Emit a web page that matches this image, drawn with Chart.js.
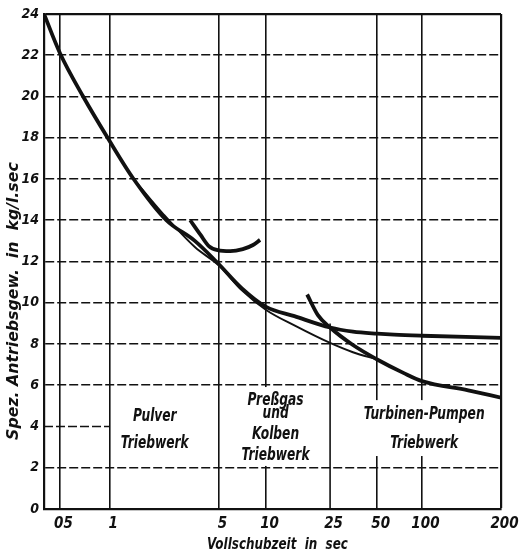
<!DOCTYPE html>
<html>
<head>
<meta charset="utf-8">
<script src="https://cdn.jsdelivr.net/npm/chart.js@4.4.1/dist/chart.umd.min.js"></script>
<style>
  html, body { margin: 0; padding: 0; background: #ffffff; }
  #wrap { width: 519px; height: 555px; position: relative; }
</style>
</head>
<body>
<div id="wrap"><canvas id="c" width="519" height="555"></canvas></div>
<script>
// ---------------- data ----------------
const xTickValues = [0.5, 1, 5, 10, 25, 50, 100, 200];
const xTickLabels = ['05', '1', '5', '10', '25', '50', '100', '200'];
const yTickValues = [0, 2, 4, 6, 8, 10, 12, 14, 16, 18, 20, 22, 24];

// thick curve from the top-left, flattening out (Preßgas / Kolben)
const pressgasX = [0.4, 0.5, 0.69, 0.97, 1.42, 2.3, 3.5, 4.8, 7, 10, 15, 25, 35, 50, 65, 100, 200];
const pressgasY = [24, 22.1, 20, 18, 16, 14, 13.0, 12.0, 10.7, 9.8, 9.35, 8.8, 8.6, 8.5, 8.45, 8.4, 8.3];

// thin envelope curve
const envelopeX = [1.42, 2.2, 3.5, 5, 7, 10, 15, 25, 35, 50];
const envelopeY = [16, 14.3, 12.7, 11.8, 10.6, 9.65, 8.9, 8.05, 7.6, 7.25];

// Pulver-Triebwerk (U-shaped)
const pulverX = [3.27, 3.8, 4.3, 4.9, 5.9, 7.1, 8.25, 9.15];
const pulverY = [14.0, 13.3, 12.75, 12.55, 12.5, 12.6, 12.8, 13.05];

// Turbinen-Pumpen-Triebwerk
const turbinenX = [18, 21, 25, 35, 50, 75, 100, 150, 200];
const turbinenY = [10.4, 9.4, 8.8, 7.95, 7.25, 6.6, 6.2, 5.75, 5.4];

// region labels (text)
const regionLabelLines = [
  ['Pulver', 'Triebwerk'],
  ['Preßgas', 'und', 'Kolben', 'Triebwerk'],
  ['Turbinen-Pumpen', 'Triebwerk']
];
const xTitle = 'Vollschubzeit  in  sec';
const yTitle = 'Spez. Antriebsgew.  in  kg/l.sec';

// ---------------- layout / style ----------------
const FONT_FAMILY = '"Liberation Sans Narrow", "DejaVu Sans Condensed", "Liberation Sans", sans-serif';
const INK = '#111111';

// the time axis of the original is a hand-drawn, piecewise logarithmic scale
const AXIS_STOPS = {
  values:    [0.4, 0.5,   1,     5,     10,    25,    50,    100,   200],
  fractions: [0,   0.035, 0.144, 0.383, 0.486, 0.626, 0.729, 0.827, 1]
};

// label anchors in data units (x seconds, y per line)
const regionLabelLayout = [
  { x: 1.94,  y: [4.46, 3.15] },
  { x: 11.45, y: [5.28, 4.65, 3.59, 2.57] },
  { x: 102,   y: [4.6, 3.15] }
];

class SegmentedLogScale extends Chart.LinearScale {
  static id = 'segmentedLog';
  static defaults = {};
  buildTicks() {
    return xTickValues.map(v => ({ value: v }));
  }
  _frac(v) {
    const vs = AXIS_STOPS.values, fs = AXIS_STOPS.fractions;
    if (v <= vs[0]) return fs[0] + (Math.log(v) - Math.log(vs[0])) / (Math.log(vs[1]) - Math.log(vs[0])) * (fs[1] - fs[0]);
    for (let i = 1; i < vs.length; i++) {
      if (v <= vs[i] || i === vs.length - 1) {
        const t = (Math.log(v) - Math.log(vs[i - 1])) / (Math.log(vs[i]) - Math.log(vs[i - 1]));
        return fs[i - 1] + t * (fs[i] - fs[i - 1]);
      }
    }
    return 1;
  }
  getPixelForValue(value) {
    if (value === null || value === undefined || isNaN(value)) return NaN;
    return this.getPixelForDecimal(this._frac(value));
  }
  getValueForPixel(pixel) {
    const d = this.getDecimalForPixel(pixel);
    const vs = AXIS_STOPS.values, fs = AXIS_STOPS.fractions;
    for (let i = 1; i < vs.length; i++) {
      if (d <= fs[i] || i === vs.length - 1) {
        const t = (d - fs[i - 1]) / (fs[i] - fs[i - 1]);
        return Math.exp(Math.log(vs[i - 1]) + t * (Math.log(vs[i]) - Math.log(vs[i - 1])));
      }
    }
    return vs[vs.length - 1];
  }
}
Chart.register(SegmentedLogScale);

const toPoints = (xs, ys) => xs.map((x, i) => ({ x: x, y: ys[i] }));

function drawScaledText(ctx, text, x, y, sx) {
  ctx.save();
  ctx.translate(x, y);
  ctx.scale(sx, 1);
  ctx.fillText(text, 0, 0);
  ctx.restore();
}

const decorations = {
  id: 'decorations',
  beforeDatasetsDraw(chart) {
    const { ctx, chartArea } = chart;
    const xs = chart.scales.x, ys = chart.scales.y;
    ctx.save();
    ctx.strokeStyle = INK;
    // partial grid line at 4 (only up to the 1-sec line)
    ctx.lineWidth = 1.6;
    ctx.setLineDash([9, 3]);
    ctx.beginPath();
    ctx.moveTo(xs.left, ys.getPixelForValue(4));
    ctx.lineTo(xs.getPixelForValue(1), ys.getPixelForValue(4));
    ctx.stroke();
    // partial vertical line at 25 sec
    ctx.setLineDash([]);
    ctx.beginPath();
    ctx.moveTo(xs.getPixelForValue(25), ys.getPixelForValue(0));
    ctx.lineTo(xs.getPixelForValue(25), ys.getPixelForValue(9));
    ctx.stroke();

    // region labels with blank background (grid is interrupted behind them)
    const squeeze = 0.8;
    ctx.font = 'italic bold 17px ' + FONT_FAMILY;
    ctx.textAlign = 'center';
    ctx.textBaseline = 'middle';
    const yTop = ys.getPixelForValue(6) + 1.8;
    const yBot = ys.getPixelForValue(2) - 1.8;
    regionLabelLines.forEach((lines, gi) => {
      const lay = regionLabelLayout[gi];
      const cx = xs.getPixelForValue(lay.x);
      const w = Math.max(...lines.map(t => ctx.measureText(t).width)) * squeeze + 10;
      const top = Math.max(ys.getPixelForValue(lay.y[0]) - 14, yTop);
      const bot = Math.min(ys.getPixelForValue(lay.y[lay.y.length - 1]) + 12, yBot);
      const left = Math.max(cx - w / 2, chartArea.left + 2);
      const right = Math.min(cx + w / 2, chartArea.right - 2);
      ctx.fillStyle = '#ffffff';
      ctx.fillRect(left, top, right - left, bot - top);
      ctx.fillStyle = INK;
      lines.forEach((t, li) => drawScaledText(ctx, t, cx, ys.getPixelForValue(lay.y[li]), squeeze));
    });
    ctx.restore();
  },
  afterDraw(chart) {
    const { ctx, chartArea } = chart;
    ctx.save();
    ctx.fillStyle = INK;
    ctx.textAlign = 'center';
    ctx.textBaseline = 'middle';
    // y-axis title (rotated)
    ctx.save();
    ctx.translate(14, chartArea.top + (chartArea.bottom - chartArea.top) * 0.58);
    ctx.rotate(-Math.PI / 2);
    ctx.font = 'italic bold 15.5px ' + FONT_FAMILY;
    drawScaledText(ctx, yTitle, 0, 0, 1.13);
    ctx.restore();
    // x-axis title
    ctx.font = 'italic bold 16px ' + FONT_FAMILY;
    drawScaledText(ctx, xTitle, (chartArea.left + chartArea.right) / 2 + 5, chartArea.bottom + 36, 0.83);
    ctx.restore();
  }
};

const thick = { borderColor: INK, borderWidth: 3.8, pointRadius: 0, cubicInterpolationMode: 'monotone', fill: false };

new Chart(document.getElementById('c'), {
  type: 'line',
  data: {
    datasets: [
      Object.assign({ label: 'Preßgas- und Kolben-Triebwerk', data: toPoints(pressgasX, pressgasY) }, thick),
      { label: 'Hüllkurve', data: toPoints(envelopeX, envelopeY), borderColor: INK, borderWidth: 1.9,
        pointRadius: 0, cubicInterpolationMode: 'monotone', fill: false },
      Object.assign({ label: 'Pulver-Triebwerk', data: toPoints(pulverX, pulverY) }, thick),
      Object.assign({ label: 'Turbinen-Pumpen-Triebwerk', data: toPoints(turbinenX, turbinenY) }, thick)
    ]
  },
  options: {
    responsive: false,
    animation: false,
    layout: { padding: { left: 0, right: 18, top: 14, bottom: 0 } },
    plugins: { legend: { display: false }, tooltip: { enabled: false } },
    scales: {
      x: {
        type: 'segmentedLog',
        min: AXIS_STOPS.values[0],
        max: AXIS_STOPS.values[AXIS_STOPS.values.length - 1],
        afterFit(scale) { scale.height = 46; scale.paddingLeft = 0; scale.paddingRight = 0; },
        grid: {
          drawTicks: false,
          color: (c) => (c.tick && c.tick.value === 25) ? 'rgba(0,0,0,0)' : INK,
          lineWidth: (c) => (c.tick && c.tick.value === 200) ? 2.2 : 1.6
        },
        border: { display: true, color: INK, width: 2.2 },
        ticks: {
          autoSkip: false, maxRotation: 0, minRotation: 0,
          padding: 6, labelOffset: 3.5, color: INK,
          font: { family: FONT_FAMILY, size: 15, style: 'italic', weight: 'bold' },
          callback: (v, i) => xTickLabels[i]
        },
        title: { display: false }
      },
      y: {
        type: 'linear',
        min: 0, max: 24,
        afterFit(scale) { scale.width = 44; scale.paddingTop = 0; scale.paddingBottom = 0; },
        afterBuildTicks(scale) { scale.ticks = yTickValues.map(v => ({ value: v })); },
        grid: {
          drawTicks: false,
          color: (c) => (c.tick && c.tick.value === 4) ? 'rgba(0,0,0,0)' : INK,
          lineWidth: (c) => (c.tick && c.tick.value === 24) ? 2.2 : 1.6
        },
        border: {
          display: true, color: INK, width: 2.2,
          dash: (c) => (c.tick && c.tick.value !== 24 && c.tick.value !== 0) ? [9, 3] : []
        },
        ticks: {
          padding: 5, color: INK,
          font: { family: FONT_FAMILY, size: 14, style: 'italic', weight: 'bold' },
          callback: (v) => String(v)
        }
      }
    }
  },
  plugins: [decorations]
});
</script>
</body>
</html>
